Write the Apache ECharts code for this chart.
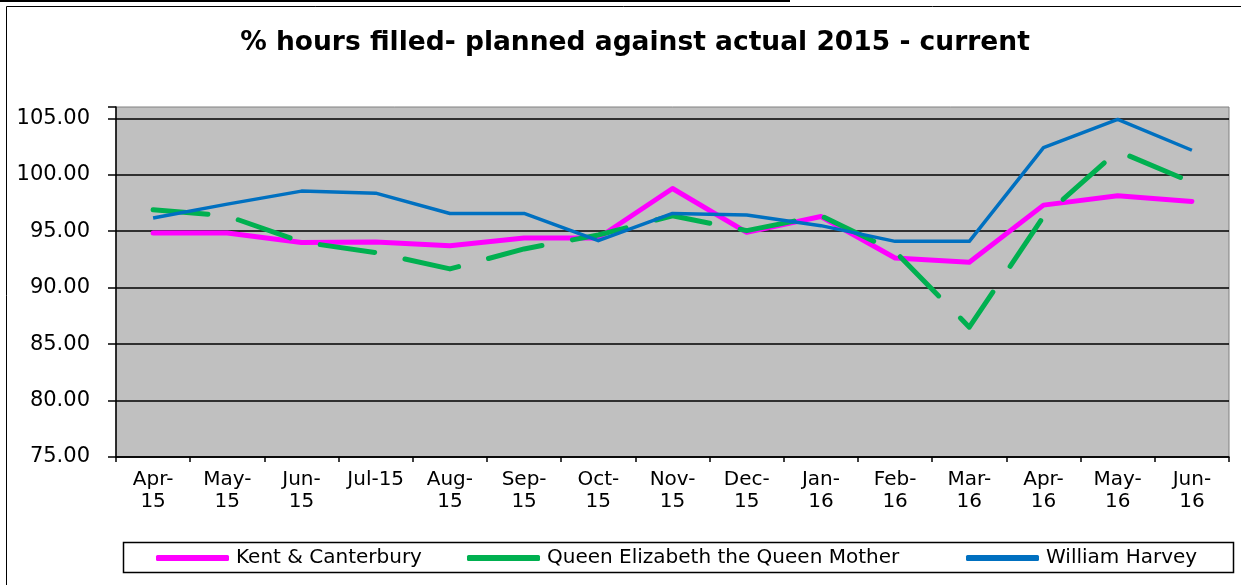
<!DOCTYPE html>
<html>
<head>
<meta charset="utf-8">
<script src="https://cdn.jsdelivr.net/npm/echarts@6/dist/echarts.min.js"></script>
<style>
html,body{margin:0;padding:0;background:#fff;}
#chart{width:1241px;height:585px;}
</style>
</head>
<body>
<div id="chart"></div>
<script>
var categories = ['Apr-15','May-15','Jun-15','Jul-15','Aug-15','Sep-15','Oct-15','Nov-15','Dec-15','Jan-16','Feb-16','Mar-16','Apr-16','May-16','Jun-16'];
var tickLabels = ['Apr-\n15','May-\n15','Jun-\n15','Jul-15','Aug-\n15','Sep-\n15','Oct-\n15','Nov-\n15','Dec-\n15','Jan-\n16','Feb-\n16','Mar-\n16','Apr-\n16','May-\n16','Jun-\n16'];
var kentCanterbury = [94.84, 94.84, 94.0, 94.04, 93.72, 94.4, 94.4, 98.78, 94.9, 96.3, 92.63, 92.25, 97.31, 98.14, 97.64];
var queenElizabeth = [96.9, 96.35, 94.05, 93.1, 91.66, 93.43, 94.66, 96.37, 95.05, 96.37, 93.2, 86.5, 96.3, 102.1, 99.33];
var williamHarvey = [96.17, 97.4, 98.55, 98.37, 96.57, 96.57, 94.16, 96.57, 96.43, 95.49, 94.1, 94.1, 102.4, 104.9, 102.17];
var seriesNames = ['Kent & Canterbury', 'Queen Elizabeth the Queen Mother', 'William Harvey'];
var titleText = '% hours filled- planned against actual 2015 - current';

var chart = echarts.init(document.getElementById('chart'), null, {renderer: 'canvas'});
var labelFont = 'DejaVu Sans';
function legendAt(x, name) {
  return {
    data: [name], left: x, top: 548, orient: 'horizontal',
    icon: 'roundRect', itemWidth: 73, itemHeight: 6, itemGap: 0, padding: 0,
    textStyle: {color: '#000', fontFamily: labelFont, fontSize: 20, padding: [0, 0, 0, 2]},
    selectedMode: false
  };
}
chart.setOption({
  animation: false,
  backgroundColor: '#fff',
  title: {
    text: titleText, left: 630, top: 25, textAlign: 'center',
    textStyle: {fontFamily: 'DejaVu Sans', fontWeight: 'bold', fontSize: 26.5, color: '#000'}
  },
  graphic: [
    {type: 'rect', shape: {x: 0, y: 0, width: 790, height: 2}, style: {fill: '#000'}, silent: true},
    {type: 'line', shape: {x1: 6.5, y1: 6.5, x2: 1241, y2: 6.5}, style: {stroke: '#000', lineWidth: 1}, silent: true},
    {type: 'line', shape: {x1: 6.5, y1: 6.5, x2: 6.5, y2: 585}, style: {stroke: '#000', lineWidth: 1}, silent: true},
    {type: 'rect', shape: {x: 123.5, y: 542.5, width: 1110, height: 30}, style: {fill: 'none', stroke: '#000', lineWidth: 1.5}, silent: true, z: -1}
  ],
  legend: [
    legendAt(156, seriesNames[0]),
    legendAt(467, seriesNames[1]),
    legendAt(966, seriesNames[2])
  ],
  grid: {
    left: 116, right: 12, top: 107, bottom: 128,
    show: true, backgroundColor: '#C0C0C0', borderColor: '#808080', borderWidth: 1,
    containLabel: false
  },
  xAxis: {
    type: 'category', data: categories, boundaryGap: true,
    axisLine: {show: true, lineStyle: {color: '#000', width: 1.5}},
    axisTick: {show: true, inside: false, length: 5, alignWithLabel: false, lineStyle: {color: '#000', width: 1.5}},
    axisLabel: {
      interval: 0, margin: 12, color: '#000', fontFamily: labelFont, fontSize: 20, lineHeight: 22,
      formatter: function (v, i) { return tickLabels[i]; }
    },
    splitLine: {show: false}
  },
  yAxis: {
    type: 'value', min: 75, max: 106, interval: 5,
    axisLine: {show: true, lineStyle: {color: '#000', width: 1.5}},
    axisTick: {show: true, length: 8, lineStyle: {color: '#000', width: 1.5}},
    axisLabel: {
      margin: 26, align: 'right', color: '#000', fontFamily: labelFont, fontSize: 21,
      formatter: function (v) { return v % 5 === 0 ? v.toFixed(2) : ''; }
    },
    splitLine: {show: true, showMaxLine: false, lineStyle: {color: '#000', width: 1.5}}
  },
  series: [
    {name: seriesNames[0], type: 'line', data: kentCanterbury, symbol: 'none', color: '#FF00FF',
     lineStyle: {color: '#FF00FF', width: 5, join: 'round', cap: 'round'}},
    {name: seriesNames[1], type: 'line', data: queenElizabeth, symbol: 'none', color: '#00B050',
     lineStyle: {color: '#00B050', width: 5, type: [55, 31], cap: 'round', join: 'round'}},
    {name: seriesNames[2], type: 'line', data: williamHarvey, symbol: 'none', color: '#0070C0',
     lineStyle: {color: '#0070C0', width: 3.5, join: 'round'}}
  ]
});
</script>
</body>
</html>
